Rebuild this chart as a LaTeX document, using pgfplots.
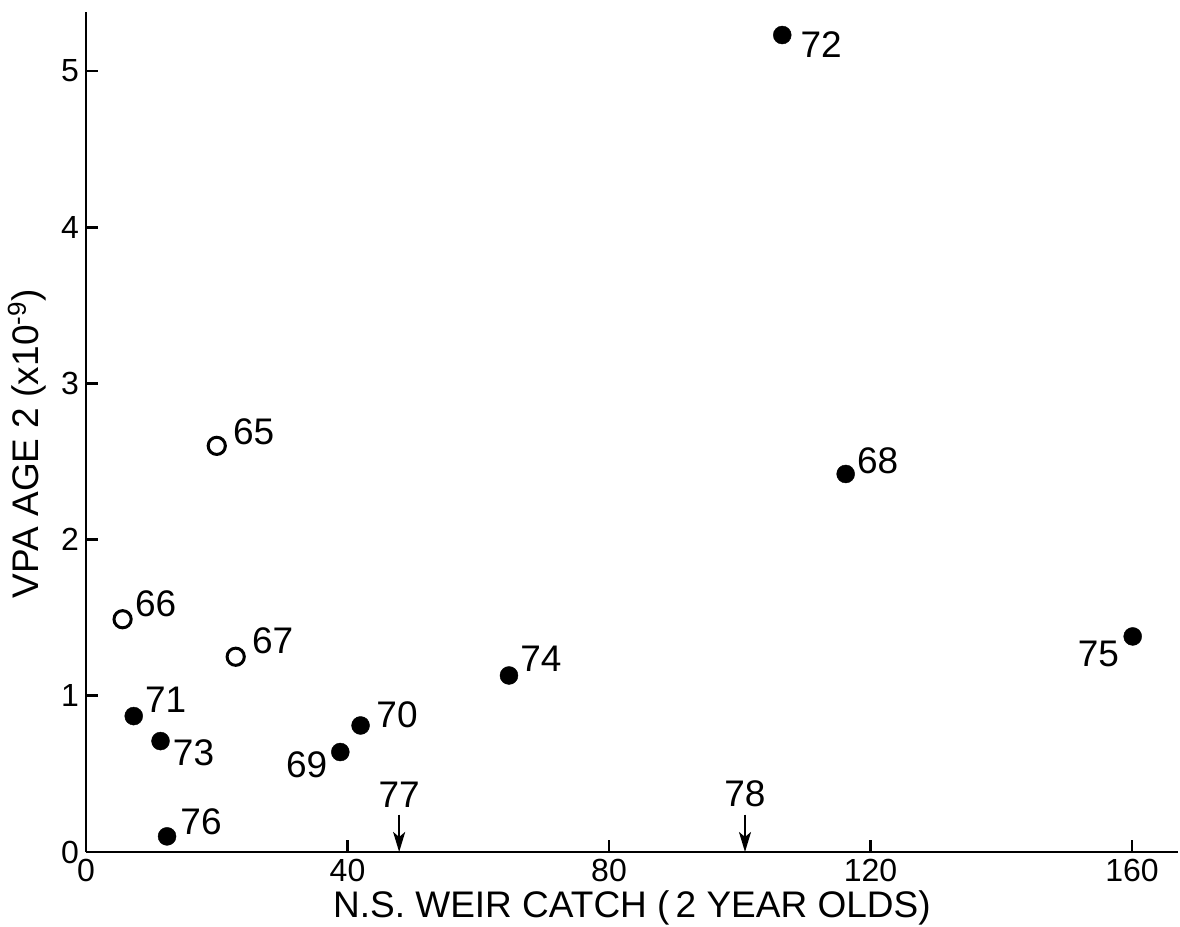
\documentclass[border=0pt]{standalone}
\usepackage{fontspec}
\setmainfont{Liberation Sans}
\usepackage{pgfplots}
\pgfplotsset{compat=1.18}
\usepackage{pgfplotstable}
\usetikzlibrary{arrows.meta}

% Years with closed symbols: weir catch (x), VPA age 2 (y)
\pgfplotstableread{
x     y     lab
116.2 2.42  68
38.9  0.64  69
42.0  0.81  70
7.3   0.87  71
106.5 5.23  72
11.4  0.71  73
64.7  1.13  74
160.1 1.38  75
12.4  0.10  76
}\closedpts

% Years with open symbols
\pgfplotstableread{
x     y     lab
20.0  2.60  65
5.6   1.49  66
22.9  1.25  67
}\openpts

% Weir catch only (no VPA yet): arrows down to the axis
\pgfplotstableread{
x     y     u  v
47.9  0.24  0  -0.24
100.8 0.24  0  -0.24
}\arrowpts

\begin{document}
\begin{tikzpicture}[yr/.style={inner sep=0pt, font=\fontsize{18.5}{21}\selectfont}]
\begin{axis}[
  scale only axis,
  width=545.9pt, height=420.2pt,
  xmin=0, xmax=167, ymin=0, ymax=5.38,
  axis lines=left,
  axis line style={-, line width=1.4pt},
  every tick/.style={black, line width=1.4pt},
  tick align=inside,
  major tick length=6pt,
  xtick={0,40,80,120,160},
  ytick={0,1,2,3,4,5},
  /pgf/number format/assume math mode=true,
  tick label style={font=\fontsize{16}{18}\selectfont},
  label style={font=\fontsize{18.5}{21}\selectfont},
  xlabel={N.S. WEIR CATCH (\,2 YEAR OLDS)},
  ylabel={VPA AGE 2 (x10\textsuperscript{-9})},
  xlabel style={at={(axis description cs:0.5,-0.0667)}, anchor=center},
  ylabel style={at={(axis description cs:-0.054,0.486)}, anchor=center},
  clip=false,
]
\coordinate (O) at (axis cs:0,0);

\addplot[only marks, mark=*, mark size=4.5pt,
  mark options={fill=black, draw=black, line width=0.2pt}]
  table[x=x, y=y] {\closedpts};

\addplot[only marks, mark=o, mark size=4.3pt,
  mark options={draw=black, line width=1.5pt, fill=white}]
  table[x=x, y=y] {\openpts};

\addplot[black, line width=1.1pt,
  quiver={u=\thisrow{u}, v=\thisrow{v},
    every arrow/.append style={-{Stealth[length=10pt, width=6pt, inset=2.5pt]}}}]
  table[x=x, y=y] {\arrowpts};

% year labels beside each symbol
\node[yr, anchor=west, xshift=5.5pt,  yshift=6.5pt]  at (axis cs:116.2,2.42) {68};
\node[yr, anchor=east, xshift=-6.35pt,yshift=-6.5pt] at (axis cs:38.9,0.64)  {69};
\node[yr, anchor=west, xshift=7.75pt, yshift=5.5pt]  at (axis cs:42.0,0.81)  {70};
\node[yr, anchor=west, xshift=5.5pt,  yshift=8pt]    at (axis cs:7.3,0.87)   {71};
\node[yr, anchor=west, xshift=9pt,    yshift=-5pt]   at (axis cs:106.5,5.23) {72};
\node[yr, anchor=west, xshift=6pt,    yshift=-6pt]   at (axis cs:11.4,0.71)  {73};
\node[yr, anchor=west, xshift=5.5pt,  yshift=8.25pt] at (axis cs:64.7,1.13)  {74};
\node[yr, anchor=east, xshift=-6.65pt,yshift=-8.75pt]at (axis cs:160.1,1.38) {75};
\node[yr, anchor=west, xshift=6.5pt,  yshift=7.25pt] at (axis cs:12.4,0.10)  {76};
\node[yr, anchor=west, xshift=8pt,    yshift=7pt]    at (axis cs:20.0,2.60)  {65};
\node[yr, anchor=west, xshift=6pt,    yshift=7.75pt] at (axis cs:5.6,1.49)   {66};
\node[yr, anchor=west, xshift=8pt,    yshift=7.75pt] at (axis cs:22.9,1.25)  {67};
\node[yr, anchor=south, yshift=3.5pt] at (axis cs:47.9,0.24)  {77};
\node[yr, anchor=south, yshift=3.5pt] at (axis cs:100.8,0.24) {78};
\end{axis}
\pgfresetboundingbox
\path (O) ++(-43pt,-37.5pt) rectangle ++(590pt,463.5pt);
\end{tikzpicture}
\end{document}
